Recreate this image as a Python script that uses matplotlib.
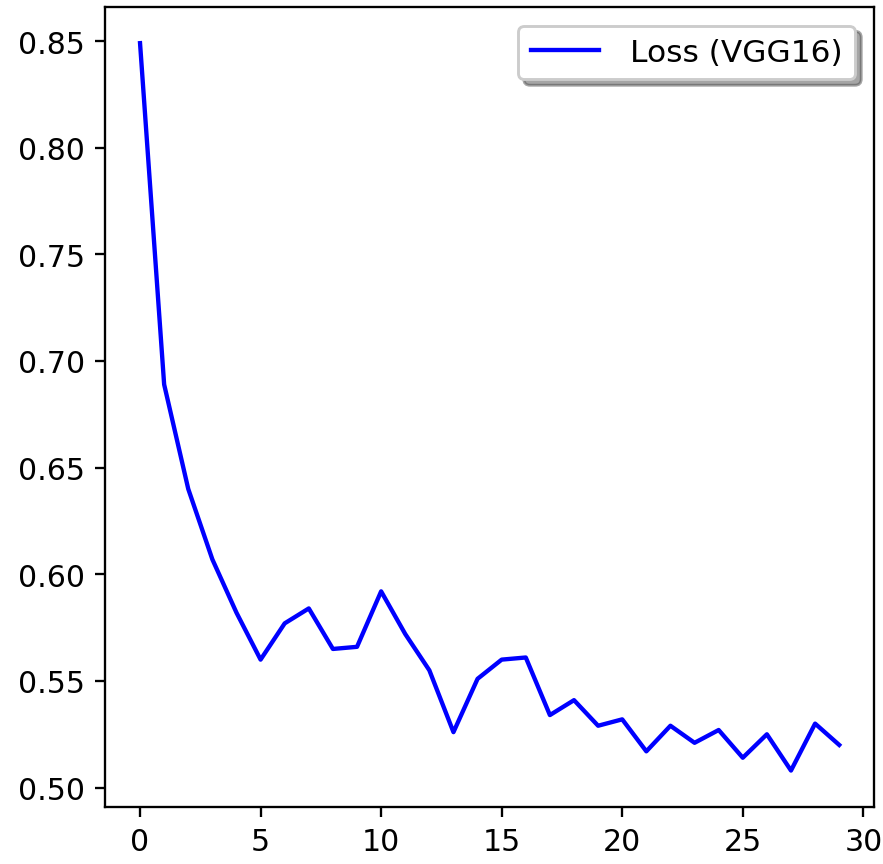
import matplotlib
matplotlib.use("Agg")
import matplotlib.pyplot as plt

# Loss per epoch
epochs = list(range(30))
loss_vgg16 = [0.849, 0.689, 0.640, 0.607, 0.582, 0.560, 0.577, 0.584, 0.565, 0.566,
              0.592, 0.572, 0.555, 0.526, 0.551, 0.560, 0.561, 0.534, 0.541, 0.529,
              0.532, 0.517, 0.529, 0.521, 0.527, 0.514, 0.525, 0.508, 0.530, 0.520]

fig = plt.figure(figsize=(883 / 208, 865 / 208), dpi=208)
ax = fig.add_axes([0.119, 0.066, 0.871, 0.925])

ax.plot(epochs, loss_vgg16, color="blue", label="Loss (VGG16)")
ax.tick_params(labelsize=10.4)
ax.legend(loc="upper right", shadow=True, fancybox=True, fontsize=10.8,
          handlelength=2.2, handletextpad=1.0, borderaxespad=0.6)

fig.savefig("out.png", dpi=208)
